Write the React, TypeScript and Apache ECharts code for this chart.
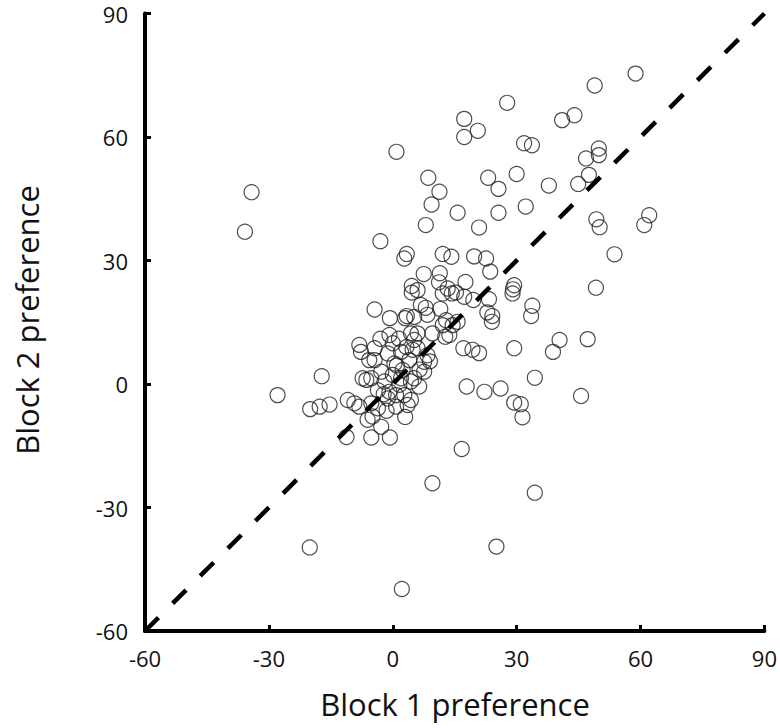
import React, { useEffect, useRef } from "react";
import * as echarts from "echarts";

const xTicks = [-60, -30, 0, 30, 60, 90];
const yTicks = [-60, -30, 0, 30, 60, 90];
const xTitle = "Block 1 preference";
const yTitle = "Block 2 preference";
const identityLine: [number, number][] = [[-60, -60], [90, 90]];

const block1: number[] = [
  58.8, 48.9, 27.7, 44.0, 41.0, 17.3, 20.6, 17.3, 31.8, 33.7,
  49.9, 49.9, 46.8, 0.9, 8.6, 30.0, 47.5, 23.1, 37.8, 44.9,
  25.6, 11.3, 9.4, 32.2, 25.6, 15.7, 8.0, 49.3, 62.1, 60.9,
  50.1, 20.9, 53.7, 49.2, -34.2, -35.8, -3.0, 3.4, 2.8, 12.1,
  14.2, 19.7, 22.6, 23.6, 7.5, 11.4, 11.2, 17.6, 4.6, 4.6,
  6.0, 12.1, 13.3, 14.3, 15.3, 17.3, 19.5, 23.3, 29.4, 29.1,
  29.0, 33.8, 33.5, 8.0, 11.5, 6.8, 3.4, 22.9, 24.1, 24.0,
  8.4, 12.9, 15.7, 14.5, 12.1, 9.6, 13.7, 6.0, 5.2, 40.4,
  47.2, 38.8, 29.4, 17.1, 19.3, 20.9, 34.4, 17.9, 22.2, 26.1,
  29.4, 31.0, 31.4, 45.6, 16.7, 9.6, 34.4, -20.1, 25.1, 2.2,
  -4.4, -0.7, 3.0, -8.1, -0.8, 4.4, 5.2, 0.0, -4.4, 12.7,
  7.6, 6.4, 8.4, 7.6, 6.0, 5.2, -7.7, -1.2, 2.0, 4.8,
  -4.4, 0.4, 4.0, -7.3, -5.2, -2.0, 2.0, 4.4, -3.6, -0.8,
  0.8, 2.8, -1.2, -10.9, -9.3, -8.1, -5.2, -3.6, 0.8, 3.6,
  -6.1, -2.8, 4.4, 1.6, -2.8, 2.4, 0.0, -17.2, -27.9, -20.0,
  -17.7, -15.3, -11.2, -5.2, -0.7, -6.4, -5.7, -4.9, 1.0, -1.5,
  3.0, 6.5, 9.0, -3.0, 1.5, -2.2, 3.3
];

const block2: number[] = [
  75.4, 72.5, 68.3, 65.3, 64.1, 64.4, 61.5, 60.0, 58.5, 58.0,
  57.2, 55.6, 54.8, 56.4, 50.1, 51.0, 50.8, 50.1, 48.2, 48.6,
  47.4, 46.7, 43.6, 43.1, 41.6, 41.6, 38.6, 40.0, 41.0, 38.6,
  38.1, 38.0, 31.5, 23.4, 46.6, 37.0, 34.7, 31.6, 30.5, 31.6,
  30.9, 31.0, 30.5, 27.3, 26.7, 26.9, 24.7, 24.8, 23.8, 22.2,
  22.8, 22.0, 23.2, 22.0, 22.2, 21.2, 20.4, 20.6, 24.0, 23.0,
  22.0, 19.0, 16.5, 18.5, 18.2, 19.2, 16.5, 17.4, 16.5, 15.1,
  16.8, 15.5, 15.1, 14.3, 14.3, 12.3, 11.9, 12.3, 16.3, 10.7,
  10.9, 7.8, 8.7, 8.7, 8.3, 7.5, 1.5, -0.6, -1.9, -1.1,
  -4.5, -4.9, -8.1, -2.9, -15.8, -24.1, -26.4, -39.7, -39.5, -49.8,
  18.1, 16.0, 16.0, 9.5, 11.9, 12.3, 10.7, 9.9, 8.7, 11.5,
  3.0, -0.6, 7.0, 5.4, 8.7, 1.4, 7.8, 7.4, 7.8, 8.3,
  5.8, 5.0, 5.8, 1.4, 1.4, 0.6, 1.4, 0.6, -1.5, -1.9,
  -2.7, -2.7, -3.5, -3.9, -4.7, -5.5, -4.7, -5.9, -5.5, -5.1,
  -8.7, -10.4, -3.9, -0.2, 3.0, 3.4, 2.2, 1.9, -2.7, -6.1,
  -5.5, -5.0, -12.9, -13.0, -13.0, 1.0, 5.8, -7.9, 4.5, -6.5,
  -8.0, 3.5, 5.5, 11.0, 11.0, -2.5, 9.0
];

const points = block1.map((x, i) => [x, block2[i]]);

export default function App() {
  const ref = useRef<HTMLDivElement>(null);
  useEffect(() => {
    if (!ref.current) return;
    const chart = echarts.init(ref.current, undefined, { renderer: "svg" });
    const font = "'Open Sans', 'Noto Sans', sans-serif";
    chart.setOption({
      animation: false,
      backgroundColor: "#ffffff",
      grid: { left: 145, right: 14, top: 13.5, bottom: 97, containLabel: false },
      xAxis: {
        type: "value",
        min: xTicks[0],
        max: xTicks[xTicks.length - 1],
        interval: 30,
        axisLine: { show: true, onZero: false, lineStyle: { color: "#000", width: 4 } },
        axisTick: { show: true, inside: true, length: 6, lineStyle: { color: "#000", width: 3 } },
        axisLabel: { color: "#111", fontSize: 22, fontFamily: font, margin: 16 },
        splitLine: { show: false },
      },
      yAxis: {
        type: "value",
        min: yTicks[0],
        max: yTicks[yTicks.length - 1],
        interval: 30,
        axisLine: { show: true, onZero: false, lineStyle: { color: "#000", width: 4 } },
        axisTick: { show: true, inside: true, length: 6, lineStyle: { color: "#000", width: 3 } },
        axisLabel: { color: "#111", fontSize: 22, fontFamily: font, margin: 17 },
        splitLine: { show: false },
      },
      graphic: [
        {
          type: "text",
          x: 455,
          y: 704,
          style: {
            text: xTitle,
            fill: "#111",
            font: `31px ${font}`,
            textAlign: "center",
            textVerticalAlign: "middle",
          },
        },
        {
          type: "text",
          x: 27,
          y: 320,
          rotation: Math.PI / 2,
          style: {
            text: yTitle,
            fill: "#111",
            font: `31px ${font}`,
            textAlign: "center",
            textVerticalAlign: "middle",
          },
        },
      ],
      series: [
        {
          type: "scatter",
          data: points,
          symbol: "circle",
          symbolSize: 15,
          itemStyle: { color: "rgba(255,255,255,0)", borderColor: "#222", borderWidth: 1.2 },
          z: 2,
        },
        {
          type: "line",
          data: identityLine,
          symbol: "none",
          silent: true,
          lineStyle: { color: "#000", width: 4.5, type: [19, 20], cap: "butt" },
          z: 3,
        },
      ],
    });
    return () => chart.dispose();
  }, []);
  return (
    <div
      ref={ref}
      style={{ position: "absolute", left: 0, top: 0, width: 780, height: 728 }}
    />
  );
}
